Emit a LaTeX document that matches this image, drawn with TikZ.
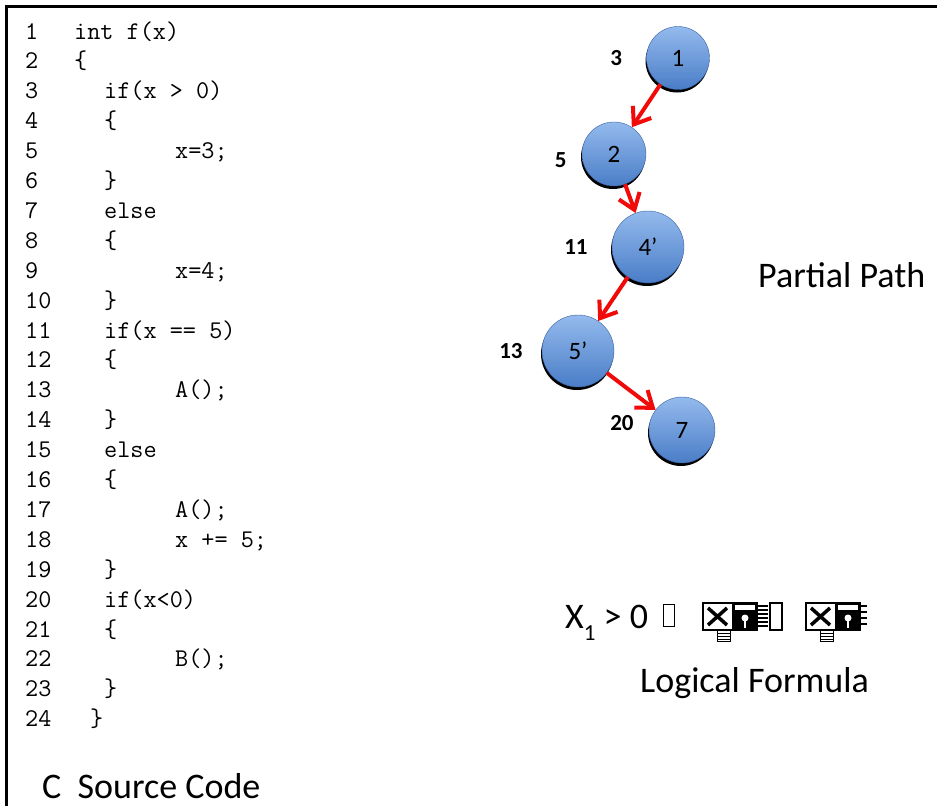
\documentclass[tikz,border=0pt]{standalone}
\usepackage{fontspec}
\setmainfont{Carlito}
\usepackage{tikz}
\usetikzlibrary{arrows.meta, positioning, shadows}
\definecolor{nodetop}{rgb}{0.58,0.73,0.93}
\definecolor{nodebot}{rgb}{0.29,0.49,0.78}
\definecolor{nodeline}{rgb}{0.22,0.38,0.64}
\definecolor{pathred}{rgb}{0.94,0.04,0.04}
\newcommand{\brokenglyph}[1]{%
  \begin{scope}[shift={#1}]
    \fill (29,0) rectangle (54,27);
    \fill[white] (32,2) rectangle (52,7);
    \fill[white] (42,15) circle (3.5);
    \draw[white, line width=1.5pt] (42,15) -- (42,25);
    \draw[line width=2pt] (0,0) rectangle (54,27);
    \draw[line width=3.5pt] (5,5) -- (24,22) (5,22) -- (24,5);
    \draw[line width=1pt] (14,27) rectangle (27,38);
    \foreach \k in {30,33,36} \draw[line width=1pt] (14,\k) -- (27,\k);
  \end{scope}}

\begin{document}
\begin{tikzpicture}[
  x=1pt, y=-1pt,
  codeline/.style={anchor=base west, inner sep=0pt,
                   font=\fontsize{25.5}{25.5}\ttfamily},
  circ/.style={circle, draw=nodeline, thin, inner sep=0pt,
               top color=nodetop, bottom color=nodebot,
               drop shadow={shadow xshift=-1pt, shadow yshift=-3pt,
                            fill=black, opacity=1},
               font=\fontsize{25}{25}\selectfont, text=black},
  lbl/.style={inner sep=0pt, font=\fontsize{23}{23}\selectfont\bfseries},
  flow/.style={draw=pathred, line width=4pt,
               -{Straight Barb[length=15pt, width=22pt]}},
  title/.style={anchor=base west, inner sep=0pt,
                font=\fontsize{36}{36}\selectfont}
]
  \useasboundingbox (0,0) rectangle (937,806);
  \draw[line width=3pt] (6,806) -- (6,6) -- (937,6);

  \foreach \n/\ind/\txt in {1/74/{int f(x)}, 2/74/\{, 3/104/{if(x > 0)},
      4/104/\{, 5/175/{x=3;}, 6/104/\}, 7/104/else, 8/104/\{, 9/175/{x=4;},
      10/104/\}, 11/104/{if(x == 5)}, 12/104/\{, 13/175/{A();}, 14/104/\},
      15/104/else, 16/104/\{, 17/175/{A();}, 18/175/{x += 5;}, 19/104/\},
      20/104/{if(x<0)}, 21/104/\{, 22/175/{B();}, 23/104/\}, 24/90/\}}
  {
    \node[codeline] (num\n) at (25, 9.1+29.9*\n) {\n};
    \node[codeline] (code\n) at (\ind, 9.1+29.9*\n) {\txt};
  }
  \node[title] (srccode) at (42,798) {C\ \ Source Code};

  \node[circ, minimum size=63pt] (n1) at (678,58) {1};
  \node[circ, minimum size=64pt] (n2) at (614,154) {2};
  \node[circ, minimum size=72pt] (n4) at (648,247) {4’};
  \node[circ, minimum size=72pt] (n5) at (578,351) {5’};
  \node[circ, minimum size=66pt] (n7) at (682,430) {7};
  \node[lbl, left=24pt of n1] (s3) {3};
  \node[lbl, left=15pt of n2, yshift=-6pt] (s5) {5};
  \node[lbl, left=24pt of n4] (s11) {11};
  \node[lbl, left=19pt of n5] (s13) {13};
  \node[lbl, left=15pt of n7, yshift=7pt] (s20) {20};
  \draw[flow] (n1) -- (n2);
  \draw[flow] (n2) -- (n4);
  \draw[flow] (n4) -- (n5);
  \draw[flow] (n5) -- (n7);
  \node[title] (partial) at (758,287) {Partial Path};

  \node[title] (formula) at (565,628)
    {X\raisebox{-12pt}{\fontsize{23}{23}\selectfont 1} > 0};
  \node[draw, line width=1.2pt, anchor=south west, inner sep=0pt,
        minimum width=11pt, minimum height=22pt] (tofu) at (663,627) {};
  \brokenglyph{(703,603)}
  \foreach \k in {606,610,...,626} \draw[line width=1.5pt] (758,\k) -- (768,\k);
  \draw[line width=2pt] (770,603) rectangle (782,630);
  \brokenglyph{(806,603)}
  \foreach \k in {606,612,618,624} \draw[line width=1.5pt] (861,\k) -- (867,\k);
  \node[title] (logical) at (640,692) {Logical Formula};
\end{tikzpicture}
\end{document}
